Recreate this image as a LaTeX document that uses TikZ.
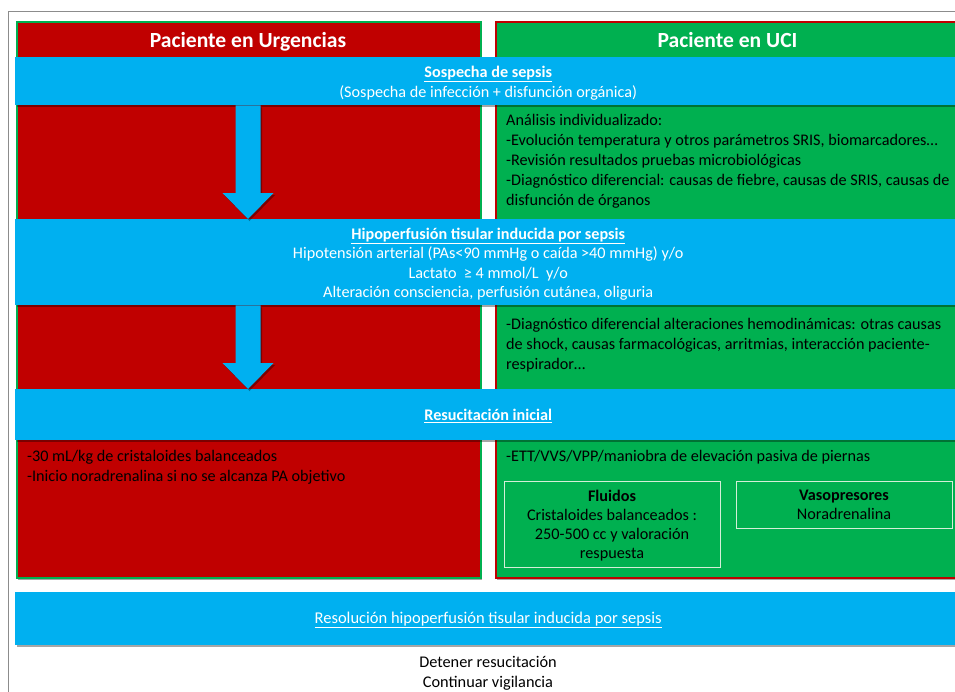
\documentclass[tikz,border=0pt]{standalone}
\usepackage{fontspec}
\setmainfont{Carlito}
\usetikzlibrary{shadows,calc}
\definecolor{cred}{HTML}{C00000}
\definecolor{cgreen}{HTML}{00B050}
\definecolor{cblue}{HTML}{00B0F0}
\definecolor{framegray}{HTML}{8C8C8C}
\definecolor{boxline}{HTML}{D4EED8}
\newcommand\flowarrow[2]{%
  \fill[cblue, shade] let \p1=(#1), \p2=(#2) in
  (\x1-12.5pt,\y1) -- (\x1+12.5pt,\y1) -- (\x1+12.5pt,\y2+26pt) -- (\x1+25.5pt,\y2+26pt)
  -- (\x2,\y2) -- (\x1-25.5pt,\y2+26pt) -- (\x1-12.5pt,\y2+26pt) -- cycle;}
\begin{document}
\begin{tikzpicture}[x=1pt,y=-1pt,
  shade/.style={drop shadow={shadow xshift=1.5pt,shadow yshift=-2pt,opacity=0.35,fill=black}},
  panel/.style={line width=1.8pt, minimum width=464pt, minimum height=556pt, anchor=north west, inner sep=0pt, shade},
  band/.style={fill=cblue, anchor=north west, minimum width=946pt, inner sep=0pt, shade},
  bandtext/.style={text=white, inner sep=0pt, align=center, font=\fontsize{16.2}{19.5}\selectfont},
  head/.style={text=white, inner sep=0pt, anchor=base, font=\fontsize{21.6}{24}\selectfont\bfseries},
  body/.style={anchor=north west, inner sep=0pt, align=left, font=\fontsize{16.2}{20}\selectfont, text=black},
  subbox/.style={draw=boxline, line width=1pt, anchor=north west, inner sep=0pt, align=center, font=\fontsize{16.2}{19}\selectfont, text=black},
]
\useasboundingbox (0,0) rectangle (955,691);
\clip (0,0) rectangle (955,691);
\fill[white] (0,0) rectangle (955,691);
\draw[framegray, line width=1pt] (8,11) rectangle (990,720);

% panels
\node[panel, fill=cred, draw=cgreen] (urg) at (16,21) {};
\node[panel, fill=cgreen, draw=cred] (uci) at (495,21) {};
\node[head] (urgh) at (248,47.5) {Paciente en Urgencias};
\node[head] (ucih) at (727.5,47.5) {Paciente en UCI};

% bands
\node[band, minimum height=48pt] (b1) at (15,57) {};
\node[band, minimum height=86pt] (b2) at (15,219) {};
\node[band, minimum height=51pt] (b3) at (15,389) {};
\node[band, minimum height=53pt] (b4) at (15,592) {};

\node[bandtext, font=\fontsize{16.2}{20}\selectfont] (b1t) at ($(b1.center)+(0,2)$)
  {\textbf{\underline{Sospecha de sepsis}}\\(Sospecha de infección + disfunción orgánica)};
\node[bandtext] (b2t) at ($(b2.center)+(0,2)$)
  {\textbf{\underline{Hipoperfusión tisular inducida por sepsis}}\\
   Hipotensión arterial (PAs<90 mmHg o caída >40 mmHg) y/o\\
   Lactato \ ≥ 4 mmol/L \ y/o\\
   Alteración consciencia, perfusión cutánea, oliguria};
\node[bandtext] (b3t) at ($(b3.center)+(0,1)$)
  {\textbf{\underline{Resucitación inicial}}};
\node[bandtext, font=\fontsize{16.5}{20}\selectfont] (b4t) at ($(b4.center)+(0,1.5)$)
  {\underline{Resolución hipoperfusión tisular inducida por sepsis}};

% arrows
\flowarrow{b1.south -| urgh.center}{b2.north -| urgh.center}
\flowarrow{b2.south -| urgh.center}{b3.north -| urgh.center}

% panel texts
\node[body] (t1) at (506,111.5) {\strut Análisis individualizado:\\
  -Evolución temperatura y otros parámetros SRIS, biomarcadores…\\
  -Revisión resultados pruebas microbiológicas\\
  -Diagnóstico diferencial: causas de fiebre, causas de SRIS, causas de\\
  disfunción de órganos};
\node[body] (t2) at (506,315) {\strut -Diagnóstico diferencial alteraciones hemodinámicas: otras causas\\
  de shock, causas farmacológicas, arritmias, interacción paciente-\\
  respirador…};
\node[body] (t3) at (27,447) {\strut -30 mL/kg de cristaloides balanceados\\
  -Inicio noradrenalina si no se alcanza PA objetivo};
\node[body] (t4) at (506,447) {\strut -ETT/VVS/VPP/maniobra de elevación pasiva de piernas};

\node[subbox, minimum width=216pt, minimum height=86pt] (flu) at (503.5,480.5) {};
\node[subbox, minimum width=216pt, minimum height=47pt] (vaso) at (735.5,480.5) {};
\node[bandtext, text=black, font=\fontsize{16.2}{19}\selectfont] (flut) at ($(flu.center)+(0,1.5)$)
  {\textbf{Fluidos}\\Cristaloides balanceados :\\250-500 cc y valoración\\respuesta};
\node[bandtext, text=black, font=\fontsize{16.2}{19}\selectfont] (vasot) at ($(vaso.center)+(0,0.5)$)
  {\textbf{Vasopresores}\\Noradrenalina};

\node[align=center, inner sep=0pt, font=\fontsize{16.3}{20}\selectfont] (fin) at (488,673)
  {Detener resucitación\\Continuar vigilancia};
\end{tikzpicture}
\end{document}
